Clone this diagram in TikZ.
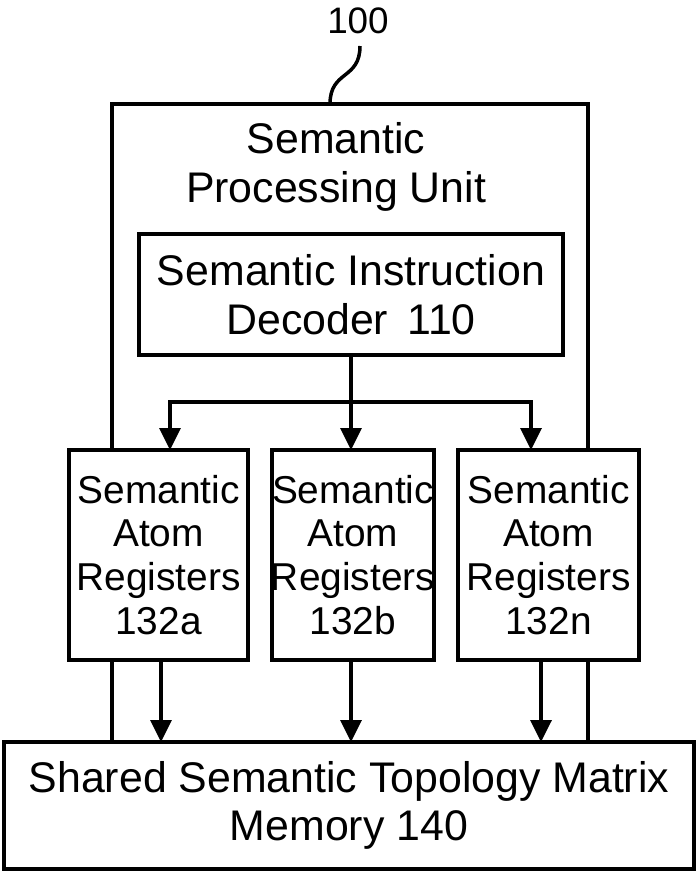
\documentclass[tikz,border=0pt]{standalone}
\usepackage{fontspec}
\setmainfont{Liberation Sans}
\usetikzlibrary{arrows.meta}
\begin{document}
\begin{tikzpicture}[x=1bp,y=-1bp,
  box/.style={draw=black,line width=4bp,fill=white,inner sep=0pt,outer sep=0pt},
  frame/.style={draw=black,line width=4bp,inner sep=0pt,outer sep=0pt},
  conn/.style={draw=black,line width=3.5bp},
  arr/.style={conn,-{Triangle[length=22bp,width=21bp]}},
  bigtxt/.style={font=\fontsize{43}{49}\selectfont,align=center,inner sep=0pt},
  regtxt/.style={font=\fontsize{39}{44}\selectfont,align=center,inner sep=0pt}
]
\useasboundingbox[fill=white] (0,0) rectangle (697,872);
% outer processing unit
\node[frame,minimum width=476bp,minimum height=638bp] (spu) at (350,423) {};
\node[bigtxt] (spulbl) at (336,167) {Semantic\\Processing Unit};
% reference numeral
\node[font=\fontsize{37}{40}\selectfont,inner sep=0pt] (ref) at (358,21) {100};
\coordinate (sq) at (330,104);
\draw[line width=3.5bp] (360,46) .. controls (360,80) and (330,70) .. (sq);
% decoder
\node[box,minimum width=424bp,minimum height=121bp] (dec) at (351,294.5) {};
\node[bigtxt] (dectxt) at (dec.center) {Semantic Instruction\\Decoder\hspace{0.45em}110};
% registers
\node[box,minimum width=179bp,minimum height=210bp] (ra) at (158.5,555) {};
\node[box,minimum width=162bp,minimum height=210bp] (rb) at (353,555) {};
\node[box,minimum width=181bp,minimum height=210bp] (rn) at (548.5,555) {};
\node[regtxt] at (ra.center) {Semantic\\Atom\\Registers\\132a};
\node[regtxt] at (rb.center) {Semantic\\Atom\\Registers\\132b};
\node[regtxt] at (rn.center) {Semantic\\Atom\\Registers\\132n};
% memory
\node[box,minimum width=690bp,minimum height=127bp] (mem) at (349,805.5) {};
\node[bigtxt] at (mem.center) {Shared Semantic Topology Matrix\\Memory 140};
% decoder fan-out
\coordinate (j) at (351,402);
\coordinate (jl) at (170,402);
\coordinate (jr) at (531,402);
\draw[conn] (dec.south) -- (j);
\draw[conn,line cap=rect] (jl) -- (jr);
\draw[arr] (jl) -- (ra.north -| jl);
\draw[arr] (j) -- (rb.north -| j);
\draw[arr] (jr) -- (rn.north -| jr);
% registers to memory
\coordinate (ba) at (161,700);
\coordinate (bb) at (351,700);
\coordinate (bn) at (541,700);
\draw[arr] (ra.south -| ba) -- (mem.north -| ba);
\draw[arr] (rb.south -| bb) -- (mem.north -| bb);
\draw[arr] (rn.south -| bn) -- (mem.north -| bn);
\end{tikzpicture}
\end{document}
